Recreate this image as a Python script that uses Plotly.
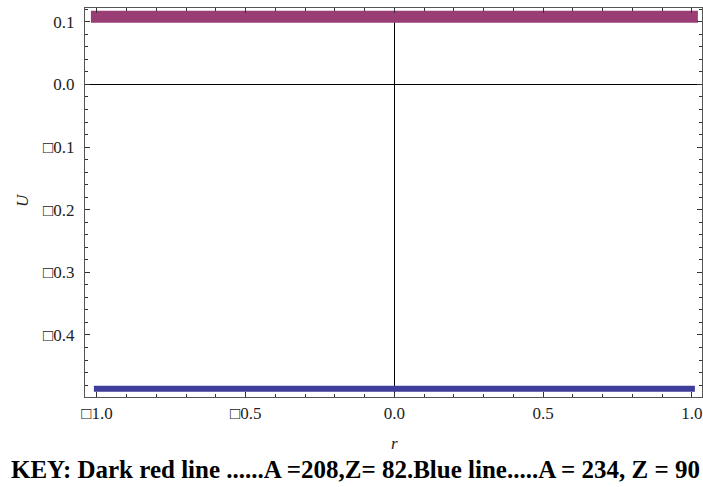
import plotly.graph_objects as go

# Data
r_values = [-1.0, 1.0]
u_dark_red = [0.108, 0.108]   # A=208, Z=82
u_blue = [-0.486, -0.486]     # A=234, Z=90

x_tick_vals = [-1.0, -0.5, 0.0, 0.5, 1.0]
x_tick_text = ["\u25a11.0", "\u25a10.5", "0.0", "0.5", "1.0"]
y_tick_vals = [-0.4, -0.3, -0.2, -0.1, 0.0, 0.1]
y_tick_text = ["\u25a10.4", "\u25a10.3", "\u25a10.2", "\u25a10.1", "0.0", "0.1"]

caption = "KEY: Dark red line ......A =208,Z= 82.Blue line.....A = 234, Z = 90"

W, H = 703, 487
ml, mr, mt, mb = 85, 1, 8, 90
pw = W - ml - mr
ph = H - mt - mb

def px_x(px):
    return (px - ml) / pw

def px_y(py):
    return (H - mb - py) / ph

fig = go.Figure()
fig.add_trace(go.Scatter(x=r_values, y=u_dark_red, mode="lines",
                         line=dict(color="rgb(153,61,116)", width=12),
                         showlegend=False, hoverinfo="skip"))
fig.add_trace(go.Scatter(x=r_values, y=u_blue, mode="lines",
                         line=dict(color="rgb(62,61,153)", width=6),
                         showlegend=False, hoverinfo="skip"))

font_serif = "Liberation Serif"
axis_common = dict(
    showgrid=False,
    showline=True, linecolor="#555555", linewidth=1,
    mirror="allticks",
    ticks="inside", ticklen=5, tickwidth=1, tickcolor="#333333",
    zeroline=True, zerolinecolor="black", zerolinewidth=1,
    layer="above traces",
    tickfont=dict(family=font_serif, size=17, color="#222222"),
    tickmode="array",
)

fig.update_xaxes(range=[-1.04, 1.034], tickvals=x_tick_vals, ticktext=x_tick_text,
                 minor=dict(ticks="inside", ticklen=3, dtick=0.1, tick0=0,
                            tickcolor="#333333", showgrid=False),
                 ticklabelstandoff=1, **axis_common)
fig.update_yaxes(range=[-0.499, 0.122], tickvals=y_tick_vals, ticktext=y_tick_text,
                 minor=dict(ticks="inside", ticklen=3, dtick=0.02, tick0=0,
                            tickcolor="#333333", showgrid=False),
                 ticklabelstandoff=6, **axis_common)

fig.add_annotation(text="<i>U</i>", xref="paper", yref="paper",
                   x=px_x(22), y=px_y(200), textangle=-90, showarrow=False,
                   xanchor="center", yanchor="middle",
                   font=dict(family=font_serif, size=17, color="#222222"))
fig.add_annotation(text="<i>r</i>", xref="paper", yref="paper",
                   x=px_x(394), y=px_y(443), showarrow=False,
                   xanchor="center", yanchor="middle",
                   font=dict(family=font_serif, size=17, color="#222222"))
fig.add_annotation(text="<b>" + caption + "</b>", xref="paper", yref="paper",
                   x=px_x(9), y=px_y(469), xanchor="left", yanchor="middle",
                   showarrow=False,
                   font=dict(family=font_serif, size=25, color="black"))

fig.update_layout(
    width=W, height=H,
    margin=dict(l=ml, r=mr, t=mt, b=mb),
    paper_bgcolor="white", plot_bgcolor="white",
)

fig.write_html("out.html",
               config={"displayModeBar": False},
               post_script="document.body.style.margin='0';"
                           "document.querySelectorAll('.js-line').forEach(function(e){e.style.strokeLinecap='square';});")
